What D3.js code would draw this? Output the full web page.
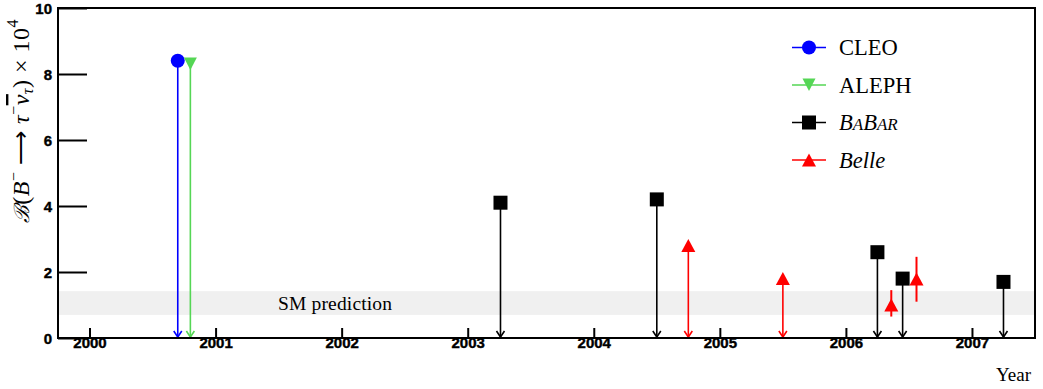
<!DOCTYPE html>
<html>
<head>
<meta charset="utf-8">
<script src="https://cdn.jsdelivr.net/npm/d3@7"></script>
</head>
<body style="margin:0;background:#fff">
<div id="chart"></div>
<script>
// experiments (legend order)
const experiments = ["CLEO", "ALEPH", "BaBar", "Belle"];
const expColors = ["#0000ff", "#55d655", "#000000", "#ff0000"];
const expMarkers = ["circle", "triangleDown", "square", "triangleUp"];

// upper limits (drawn as arrows down to zero)
const limitExp    = ["CLEO", "ALEPH", "BaBar", "BaBar", "Belle", "Belle", "BaBar", "BaBar", "BaBar"];
const limitYears  = [2000.70, 2000.80, 2003.26, 2004.50, 2004.75, 2005.50, 2006.25, 2006.45, 2007.25];
const limitValues = [8.4, 8.3, 4.1, 4.2, 2.8, 1.8, 2.6, 1.8, 1.7];

// measurements with errors
const measExp     = ["Belle", "Belle"];
const measYears   = [2006.36, 2006.56];
const measValues  = [1.0, 1.79];
const measErrUp   = [0.45, 0.67];
const measErrDown = [0.35, 0.69];

// SM prediction band
const smLow = 0.7, smHigh = 1.42;

const yearTicks = [2000, 2001, 2002, 2003, 2004, 2005, 2006, 2007];
const yTicks = [0, 2, 4, 6, 8, 10];

const SERIF = "'Liberation Serif', 'Times New Roman', serif";
const SANS = "'Liberation Sans', Arial, sans-serif";

const W = 1043, H = 389;
const margin = {top: 8, right: 8, bottom: 51, left: 58};
const width = W - margin.left - margin.right;
const height = H - margin.top - margin.bottom;

const svg = d3.select("#chart").append("svg").attr("width", W).attr("height", H).style("display", "block");
const plot = svg.append("g").attr("transform", "translate(" + margin.left + "," + margin.top + ")");

const x = d3.scaleLinear().domain([1999.75, 2007.5]).range([0, width]);
const y = d3.scaleLinear().domain([0, 10]).range([height, 0]);

function colorOf(e) { return expColors[experiments.indexOf(e)]; }
function markerOf(e) { return expMarkers[experiments.indexOf(e)]; }

// draw a marker centred at cx, cy
function drawMarker(g, type, cx, cy, color) {
    if (type == "circle") {
        g.append("circle").attr("cx", cx).attr("cy", cy).attr("r", 7).attr("fill", color);
    } else if (type == "square") {
        g.append("rect").attr("x", cx - 7).attr("y", cy - 7).attr("width", 14).attr("height", 14).attr("fill", color);
    } else if (type == "triangleUp") {
        g.append("path").attr("d", "M" + (cx - 7) + "," + (cy + 6.5) + "L" + (cx + 7) + "," + (cy + 6.5) + "L" + cx + "," + (cy - 6.5) + "Z").attr("fill", color);
    } else {
        g.append("path").attr("d", "M" + (cx - 6.5) + "," + (cy - 6.5) + "L" + (cx + 6.5) + "," + (cy - 6.5) + "L" + cx + "," + (cy + 6) + "Z").attr("fill", color);
    }
}

function serifText(sel, size) {
    return sel.attr("font-family", SERIF).attr("font-size", size).attr("fill", "#000");
}

// SM band
plot.append("rect")
    .attr("x", 0).attr("width", width)
    .attr("y", y(smHigh)).attr("height", y(smLow) - y(smHigh))
    .attr("fill", "#f0f0f0");
serifText(plot.append("text"), 19.5)
    .attr("x", 220).attr("y", y((smLow + smHigh) / 2) + 6.5)
    .attr("textLength", 114)
    .text("SM prediction");

// axes
const xAxis = plot.append("g")
    .attr("transform", "translate(0," + height + ")")
    .call(d3.axisBottom(x).tickValues(yearTicks).tickFormat(d3.format("d")).tickSize(-10).tickPadding(7));
const yAxis = plot.append("g")
    .call(d3.axisLeft(y).tickValues(yTicks).tickSize(-29).tickPadding(6));
[xAxis, yAxis].forEach(function(a) {
    a.attr("font-family", SANS).attr("font-size", 15).attr("font-weight", "bold");
    a.select(".domain").remove();
    a.selectAll(".tick line").attr("stroke", "#000").attr("stroke-width", 2);
    a.selectAll(".tick text").attr("fill", "#000").attr("stroke", "#000").attr("stroke-width", 0.4);
});
xAxis.selectAll(".tick text").attr("dy", "0.2em");
yAxis.selectAll(".tick text").attr("dy", "0.36em");

// upper limits: line from marker down to zero with an open arrowhead
limitYears.forEach(function(yr, i) {
    let c = colorOf(limitExp[i]);
    let cx = x(yr), cy = y(limitValues[i]);
    let g = plot.append("g");
    g.append("line").attr("x1", cx).attr("x2", cx).attr("y1", cy).attr("y2", y(0) - 1)
        .attr("stroke", c).attr("stroke-width", 1.6);
    g.append("path")
        .attr("d", "M" + (cx - 4) + "," + (y(0) - 7) + "L" + cx + "," + (y(0) - 1) + "L" + (cx + 4) + "," + (y(0) - 7))
        .attr("fill", "none").attr("stroke", c).attr("stroke-width", 1.6);
    drawMarker(g, markerOf(limitExp[i]), cx, cy, c);
});

// measurements
measYears.forEach(function(yr, i) {
    let c = colorOf(measExp[i]);
    let cx = x(yr);
    let g = plot.append("g");
    g.append("line").attr("x1", cx).attr("x2", cx)
        .attr("y1", y(measValues[i] + measErrUp[i])).attr("y2", y(measValues[i] - measErrDown[i]))
        .attr("stroke", c).attr("stroke-width", 2);
    drawMarker(g, markerOf(measExp[i]), cx, y(measValues[i]), c);
});

// frame
plot.append("rect").attr("width", width).attr("height", height)
    .attr("fill", "none").attr("stroke", "#000").attr("stroke-width", 2);

// legend
const legend = svg.append("g").attr("transform", "translate(792,47.5)");
experiments.forEach(function(e, i) {
    let g = legend.append("g").attr("transform", "translate(0," + (i * 37.5) + ")");
    g.append("line").attr("x1", 0).attr("x2", 34).attr("stroke", expColors[i]).attr("stroke-width", 1.6);
    drawMarker(g, expMarkers[i], 17, 0, expColors[i]);
    let t = serifText(g.append("text"), 22.5).attr("x", 47).attr("y", 7.5);
    if (e == "BaBar") {
        t.attr("font-style", "italic");
        t.append("tspan").text("B");
        t.append("tspan").attr("font-size", 17).text("A");
        t.append("tspan").text("B");
        t.append("tspan").attr("font-size", 17).text("AR");
    } else if (e == "Belle") {
        t.attr("font-style", "italic").text("Belle");
    } else {
        t.text(e);
    }
});

// y axis title
const yt = serifText(svg.append("text"), 24)
    .attr("transform", "translate(29,121) rotate(-90)")
    .attr("text-anchor", "middle")
    .attr("letter-spacing", 0.5);
yt.append("tspan").attr("font-family", "'DejaVu Serif', serif").attr("font-size", 21).attr("font-style", "italic").text("\u212C");
yt.append("tspan").text("(");
yt.append("tspan").attr("font-style", "italic").text("B");
yt.append("tspan").attr("dy", -10).attr("font-size", 16).text("\u2212");
yt.append("tspan").attr("dy", 10).text(" \u27F6 ");
yt.append("tspan").attr("font-style", "italic").text("\u03C4");
yt.append("tspan").attr("dy", -10).attr("font-size", 16).text("\u2212");
yt.append("tspan").attr("dy", 10).attr("font-style", "italic").attr("text-decoration", "overline").text("\u03BD");
yt.append("tspan").attr("dy", 4).attr("font-size", 16).attr("font-style", "italic").text("\u03C4");
yt.append("tspan").attr("dy", -4).text(") \u00D7 10");
yt.append("tspan").attr("dy", -11).attr("font-size", 16).text("4");

// x axis title
serifText(svg.append("text"), 19)
    .attr("x", margin.left + width - 4).attr("y", 381)
    .attr("text-anchor", "end")
    .text("Year");
</script>
</body>
</html>
